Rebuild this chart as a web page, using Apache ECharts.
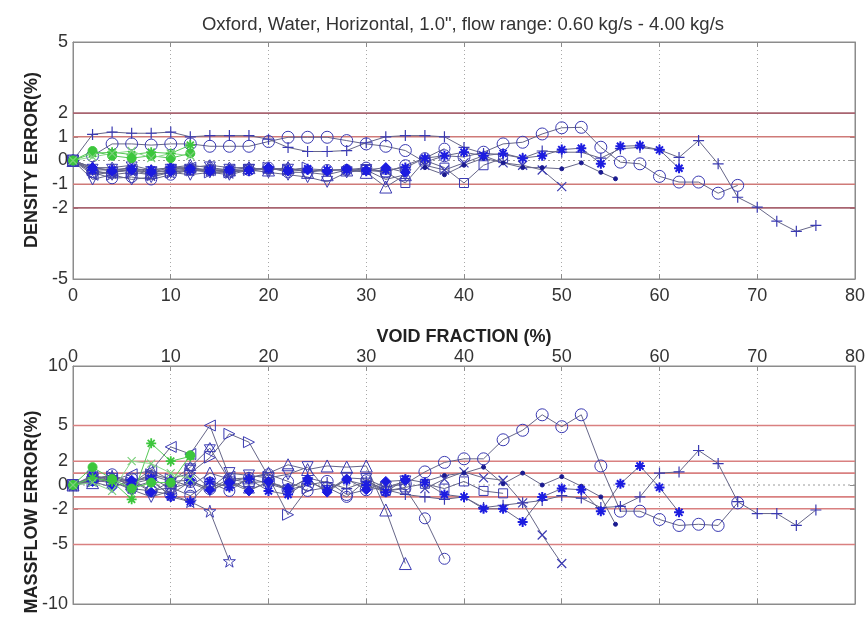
<!DOCTYPE html>
<html><head><meta charset="utf-8">
<script src="https://cdn.jsdelivr.net/npm/echarts@6/dist/echarts.min.js"></script>
<style>html,body{margin:0;padding:0;background:#fff}#c{width:868px;height:619px}</style>
</head><body><div id="c"></div>
<script>
// ---------- data ----------
const titleText = 'Oxford, Water, Horizontal, 1.0", flow range: 0.60 kg/s - 4.00 kg/s';
const xTicks = [0, 10, 20, 30, 40, 50, 60, 70, 80];
const densityTicks = [-5, -2, -1, 0, 1, 2, 5];
const massTicks = [-10, -5, -2, 0, 2, 5, 10];
const densityRefLines = [2, 1, -1, -2];
const massRefLines = [5, 2, 1, -1, -2, -5];

const plusX = [0,2,4,6,8,10,12,14,16,18,20,22,24,26,28,30,32,34,36,38,40,42,44,46,48,50,52,54,56,58,60,62,64,66,68,70,72,74,76];
const plusDensity = [0,1.1,1.2,1.15,1.15,1.2,1.0,1.05,1.05,1.05,0.9,0.55,0.38,0.38,0.42,0.75,1.0,1.05,1.05,1.0,0.55,0.3,0.25,0.1,0.4,0.35,0.35,0.1,0.5,0.55,0.45,0.13,0.84,-0.14,-1.55,-1.97,-2.56,-2.99,-2.74];
const plusMass = [0,0.5,0.8,0.3,0.6,-0.3,0.2,-0.5,0.3,0.6,0.1,-0.4,0.6,0.2,-0.3,0.3,-0.4,-0.8,-1.0,-1.2,-1.0,-1.9,-1.7,-1.5,-1.3,-0.9,-1.1,-1.9,-1.8,-1.0,1.0,1.1,2.9,1.8,-1.4,-2.4,-2.4,-3.4,-2.1];

const circX = [2,4,6,8,10,12,14,16,18,20,22,24,26,28,30,32,34,36,38,40,42,44,46,48,50,52,54,56,58,60,62,64,66,68];
const circDensity = [0.2,0.7,0.7,0.65,0.7,0.7,0.6,0.6,0.6,0.8,0.98,0.98,0.98,0.84,0.7,0.6,0.42,-0.07,0.2,0.15,0.35,0.7,0.77,1.12,1.38,1.4,0.56,-0.07,-0.14,-0.67,-0.91,-0.91,-1.38,-1.05];
const circMass = [0.5,0.3,0.5,-0.5,-0.8,0.3,-0.3,0.5,0.2,0.3,-0.4,0,0.3,-0.8,-0.4,-0.2,0.1,1.1,1.9,2.2,2.2,3.8,4.6,5.9,4.9,5.9,1.6,-2.2,-2.2,-2.9,-3.4,-3.3,-3.4,-1.5];

const circ2X = [0,2,4,6,8,10,12,14,16,18,20,22,24,26,28,30,32,34,36,38];
const circ2Density = [0,-0.5,-0.75,-0.7,-0.8,-0.6,-0.4,-0.4,-0.5,-0.4,-0.3,-0.5,-0.5,-0.4,-0.4,-0.3,-0.5,-0.2,0.1,0.5];
const circ2Mass = [0,0.4,0.9,-0.3,-0.5,-0.2,-0.9,0.2,-0.5,0.6,0.9,0.3,-0.5,-0.2,-1.0,0.4,-0.5,-0.3,-2.8,-6.2];

const triUpX = [0,2,4,6,8,10,12,14,16,18,20,22,24,26,28,30,32,34];
const triUpDensity = [0,-0.3,-0.4,-0.3,-0.5,-0.3,-0.2,-0.3,-0.4,-0.3,-0.4,-0.3,-0.5,-0.6,-0.4,-0.5,-1.12,-0.6];
const triUpMass = [0,0.2,0.5,0.1,1.3,0.4,-0.1,1.0,0.5,0.6,1.0,1.7,1.3,1.6,1.5,1.6,-2.1,-6.6];

const triLeftX = [0,2,4,6,8,10,12,14,16];
const triLeftDensity = [0,-0.6,-0.5,-0.4,-0.5,-0.4,-0.3,-0.4,-0.4];
const triLeftMass = [0,0.6,0.4,0.9,1.2,3.2,2.6,5.0,0.7];

const triRightX = [0,2,4,6,8,10,12,14,16,18,20,22,24];
const triRightDensity = [0,-0.4,-0.6,-0.5,-0.6,-0.5,-0.4,-0.5,-0.5,-0.4,-0.3,-0.4,-0.3];
const triRightMass = [0,0.3,0.7,0.2,0.9,0.5,1.0,2.3,4.3,3.6,0.7,-2.5,-0.3];

const triDownX = [0,2,4,6,8,10,12,14,16,18,20,22,24,26,28,30,32,34];
const triDownDensity = [0,-0.8,-0.6,-0.8,-0.7,-0.5,-0.6,-0.5,-0.6,-0.4,-0.5,-0.6,-0.7,-0.9,-0.5,-0.4,-0.8,-0.6];
const triDownMass = [0,0.7,0.3,-0.4,-1.0,-0.5,1.2,-0.3,1.0,0.8,0.6,0.9,1.5,-0.5,0.6,0.5,-0.2,0.3];

const pentaX = [0,2,4,6,8,10,12,14,16];
const pentaDensity = [0,-0.5,-0.5,-0.4,-0.6,-0.5,-0.4,-0.4,-0.5];
const pentaMass = [0,0.4,0.2,-0.2,0.3,-0.8,-1.4,-2.2,-6.4];

const hexaX = [0,2,4,6,8,10,12,14,16,18,20,22];
const hexaDensity = [0,-0.3,-0.3,-0.2,-0.4,-0.3,-0.3,-0.2,-0.3,-0.3,-0.4,-0.3];
const hexaMass = [0,0.6,0.7,0.2,0.8,0.3,1.5,3.1,0.4,-0.4,0.2,-0.3];

const starX = [0,2,4,6,8,10,12,14,16,18,20,22,24,26,28,30,32,34,36,38,40,42,44,46,48,50,52,54,56,58,60,62];
const starDensity = [0,-0.4,-0.4,-0.35,-0.4,-0.3,-0.4,-0.4,-0.4,-0.45,-0.35,-0.4,-0.35,-0.4,-0.4,-0.45,-0.4,-0.3,0.1,0.2,0.35,0.2,0.3,0.1,0.2,0.46,0.52,-0.14,0.6,0.63,0.45,-0.33];
const starMass = [0,0.8,0.5,0.1,0.5,-1.0,-1.4,0.3,-0.2,0.5,-0.5,-0.8,0.3,-0.4,0.4,0,-0.6,0.5,0.2,-0.8,-1.0,-2.0,-2.0,-3.1,-1.0,-0.3,-0.4,-2.2,0.1,1.6,-0.2,-2.3];

const diamondX = [0,2,4,6,8,10,12,14,16,18,20,22,24,26,28,30,32,34];
const diamondDensity = [0,-0.3,-0.45,-0.4,-0.5,-0.45,-0.35,-0.45,-0.4,-0.4,-0.3,-0.45,-0.4,-0.45,-0.35,-0.4,-0.3,-0.5];
const diamondMass = [0,0.3,-0.2,0.4,-0.6,0.3,0.4,-0.4,0.2,-0.5,0.3,-0.3,0.5,-0.6,0.5,-0.4,0.3,0.4];

const dotX = [36,38,40,42,44,46,48,50,52,54,55.5];
const dotDensity = [-0.3,-0.6,-0.2,0.1,-0.1,-0.3,-0.3,-0.35,-0.1,-0.5,-0.77];
const dotMass = [0.3,0.8,1.0,1.5,0.1,1.0,0,0.7,-0.1,-1.0,-3.3];

const crossX = [36,38,40,42,44,46,48,50];
const crossDensity = [-0.2,-0.4,-0.1,0.2,-0.1,-0.2,-0.4,-1.1];
const crossMass = [-0.3,0.5,1.1,0.6,0.4,-1.5,-4.2,-6.6];

const squareX = [30,32,34,36,38,40,42,44];
const squareDensity = [-0.4,-0.5,-0.95,0.0,-0.3,-0.95,-0.2,0.1];
const squareMass = [0.2,-0.5,-0.2,0.1,-0.3,0.3,-0.5,-0.7];

const greenStarX = [0,2,4,6,8,10,12];
const greenStarDensity = [0,0.3,0.35,0.25,0.35,0.3,0.65];
const greenStarMass = [0,0.6,0.3,-1.2,3.5,2.0,2.4];

const greenDotX = [0,2,4,6,8,10,12];
const greenDotDensity = [0,0.4,0.2,0.1,0.2,0.1,0.3];
const greenDotMass = [0,1.5,0.5,-0.3,0.2,0.2,2.5];

const greenCrossX = [0,2,4,6,8,10,12];
const greenCrossDensity = [0,0.15,0.3,0.4,0.1,0.3,0.2];
const greenCrossMass = [0,0.2,-0.5,2.0,1.8,1.0,0.5];

// ---------- styles ----------
const FONT = 'Liberation Sans, Arial, sans-serif';
const LINE = '#666688';
const HOLLOW = '#3a3ab2';
const BRIGHT = '#1c1ce0';
const GREEN = '#3cc63c';
const BOX = '#8c8c8c';
const P = {
  plus: 'path://M0,5L10,5M5,0L5,10',
  cross: 'path://M0,0L10,10M10,0L0,10',
  aster: 'path://M5,0L5,10M0,5L10,5M1.5,1.5L8.5,8.5M8.5,1.5L1.5,8.5',
  triDown: 'path://M0,0L10,0L5,9Z',
  triRight: 'path://M0,0L9,5L0,10Z',
  triLeft: 'path://M9,0L0,5L9,10Z',
  penta: 'path://M5,0L6.2,3.6L10,3.6L6.9,5.9L8.1,9.5L5,7.3L1.9,9.5L3.1,5.9L0,3.6L3.8,3.6Z',
  hexa: 'path://M5,0L10,8L0,8ZM5,10L0,2L10,2Z'
};
const none = 'rgba(0,0,0,0)';

const series = [];
function addRef(vals, g, colorFn) {
  vals.forEach(v => {
    series.push({
      type: 'line', xAxisIndex: g * 2, yAxisIndex: g * 2,
      data: [[0, v], [80, v]], showSymbol: false, silent: true, z: 1,
      lineStyle: { color: colorFn(v), width: 1.6 }
    });
  });
  series.push({
    type: 'line', xAxisIndex: g * 2, yAxisIndex: g * 2,
    data: [[0, 0], [80, 0]], showSymbol: false, silent: true, z: 1,
    lineStyle: { color: '#9a9a9a', width: 1, type: [2, 3] }
  });
}
addRef(densityRefLines, 0, v => Math.abs(v) === 2 ? '#a86470' : '#cf7a78');
addRef(massRefLines, 1, v => '#d98080');

function addPair(xs, dens, mass, mk) {
  [dens, mass].forEach((ys, g) => {
    series.push({
      type: 'line', xAxisIndex: g * 2, yAxisIndex: g * 2,
      data: xs.map((x, i) => [x, ys[i]]),
      symbol: mk.symbol, symbolSize: mk.size, showAllSymbol: true,
      lineStyle: { color: mk.line || LINE, width: 1 },
      itemStyle: { color: mk.fill || none, borderColor: mk.stroke, borderWidth: mk.bw || 1 },
      emphasis: { disabled: true }, silent: true, z: mk.z || 3
    });
  });
}
addPair(plusX, plusDensity, plusMass, { symbol: P.plus, size: 11, stroke: HOLLOW, bw: 1.2 });
addPair(circX, circDensity, circMass, { symbol: 'circle', size: 12, stroke: HOLLOW });
addPair(circ2X, circ2Density, circ2Mass, { symbol: 'circle', size: 11, stroke: HOLLOW });
addPair(triUpX, triUpDensity, triUpMass, { symbol: 'triangle', size: 12, stroke: HOLLOW });
addPair(triLeftX, triLeftDensity, triLeftMass, { symbol: P.triLeft, size: 11, stroke: HOLLOW });
addPair(triRightX, triRightDensity, triRightMass, { symbol: P.triRight, size: 11, stroke: HOLLOW });
addPair(triDownX, triDownDensity, triDownMass, { symbol: P.triDown, size: 11, stroke: HOLLOW });
addPair(pentaX, pentaDensity, pentaMass, { symbol: P.penta, size: 12, stroke: HOLLOW });
addPair(hexaX, hexaDensity, hexaMass, { symbol: P.hexa, size: 11, stroke: HOLLOW });
addPair(squareX, squareDensity, squareMass, { symbol: 'rect', size: 9, stroke: HOLLOW });
addPair(crossX, crossDensity, crossMass, { symbol: P.cross, size: 9, stroke: HOLLOW, bw: 1.2 });
addPair(dotX, dotDensity, dotMass, { symbol: 'circle', size: 4, fill: '#1a1a90', stroke: '#1a1a90' });
addPair(diamondX, diamondDensity, diamondMass, { symbol: 'diamond', size: 10, fill: BRIGHT, stroke: BRIGHT, z: 4 });
addPair(starX, starDensity, starMass, { symbol: P.aster, size: 10, fill: BRIGHT, stroke: BRIGHT, bw: 2, z: 4 });
addPair(greenStarX, greenStarDensity, greenStarMass, { symbol: P.aster, size: 10, stroke: GREEN, line: '#55c855', bw: 1.8, z: 5 });
addPair(greenDotX, greenDotDensity, greenDotMass, { symbol: 'circle', size: 9, fill: GREEN, stroke: GREEN, line: '#55c855', z: 5 });
addPair(greenCrossX, greenCrossDensity, greenCrossMass, { symbol: P.cross, size: 8, stroke: '#7ad07a', line: '#8ad88a', bw: 1.2, z: 5 });

// ---------- axes ----------
function xAx(grid, pos, labels) {
  return {
    gridIndex: grid, type: 'value', min: 0, max: 80, interval: 10, position: pos,
    axisLine: { show: true, onZero: false, lineStyle: { color: BOX, width: 1 } },
    axisTick: { show: true, inside: true, length: 5, lineStyle: { color: BOX } },
    axisLabel: { show: labels, fontSize: 18, color: '#333', fontFamily: FONT, margin: pos === 'top' ? 0 : 8,
      customValues: xTicks },
    splitLine: { show: labels, lineStyle: { type: [1, 3], color: '#a8a8a8', width: 1 } }
  };
}
function yAx(grid, pos, labels, min, max, ticks) {
  return {
    gridIndex: grid, type: 'value', min, max, position: pos,
    axisLine: { show: true, onZero: false, lineStyle: { color: BOX, width: 1 } },
    axisTick: { show: true, inside: true, length: 5, customValues: ticks, lineStyle: { color: BOX } },
    axisLabel: { show: labels, fontSize: 18, color: '#333', fontFamily: FONT, margin: 5, customValues: ticks },
    splitLine: { show: false }
  };
}

const chart = echarts.init(document.getElementById('c'), null, { renderer: 'canvas' });
chart.setOption({
  animation: false,
  backgroundColor: '#fff',
  grid: [
    { left: 73, right: 13, top: 42, height: 237, show: true, borderColor: BOX, borderWidth: 1, backgroundColor: '#fff' },
    { left: 73, right: 13, top: 366, height: 238, show: true, borderColor: BOX, borderWidth: 1, backgroundColor: '#fff' }
  ],
  xAxis: [xAx(0, 'bottom', true), xAx(0, 'top', false), xAx(1, 'top', true), xAx(1, 'bottom', false)],
  yAxis: [
    yAx(0, 'left', true, -5, 5, densityTicks), yAx(0, 'right', false, -5, 5, densityTicks),
    yAx(1, 'left', true, -10, 10, massTicks), yAx(1, 'right', false, -10, 10, massTicks)
  ],
  graphic: [
    { type: 'text', x: 463, y: 25, style: { text: titleText, font: '18.5px ' + FONT, fill: '#333', align: 'center', verticalAlign: 'middle' } },
    { type: 'text', x: 464, y: 337, style: { text: 'VOID FRACTION (%)', font: 'bold 18px ' + FONT, fill: '#222', align: 'center', verticalAlign: 'middle' } },
    { type: 'text', x: 32, y: 160, rotation: Math.PI / 2, style: { text: 'DENSITY ERROR(%)', font: 'bold 18px ' + FONT, fill: '#222', align: 'center', verticalAlign: 'middle' } },
    { type: 'text', x: 32, y: 512, rotation: Math.PI / 2, style: { text: 'MASSFLOW ERROR(%)', font: 'bold 18px ' + FONT, fill: '#222', align: 'center', verticalAlign: 'middle' } }
  ],
  series
});
</script></body></html>
